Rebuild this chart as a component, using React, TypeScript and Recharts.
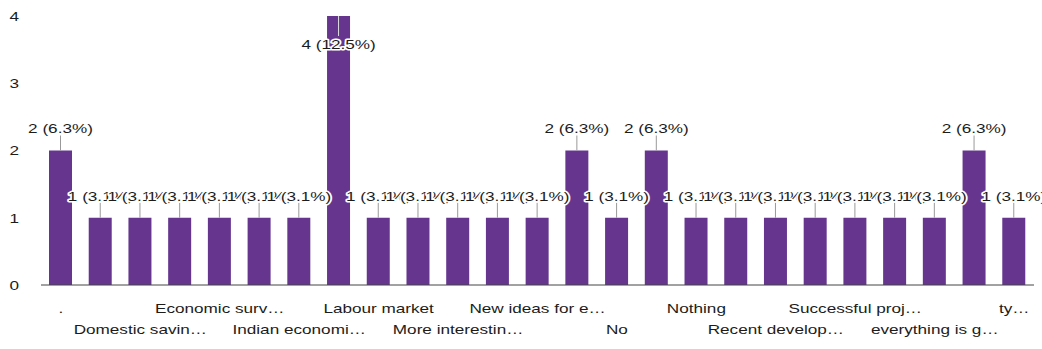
import React from "react";
import { BarChart, Bar, XAxis, YAxis, LabelList } from "recharts";

const categories: string[] = [
  ".",
  "Banking sector",
  "Domestic savin…",
  "Economic growth",
  "Economic surv…",
  "GDP growth",
  "Indian economi…",
  "Inflation",
  "Labour market",
  "Monetary policy",
  "More interestin…",
  "Nature of economy",
  "New ideas for e…",
  "Nice",
  "No",
  "None",
  "Nothing",
  "Poverty",
  "Recent develop…",
  "Rural economy",
  "Successful proj…",
  "Tax reforms",
  "everything is g…",
  "nothing much",
  "ty…",
];

const counts: number[] = [2, 1, 1, 1, 1, 1, 1, 4, 1, 1, 1, 1, 1, 2, 1, 2, 1, 1, 1, 1, 1, 1, 1, 2, 1];

const yTicks: number[] = [0, 1, 2, 3, 4];

const total = counts.reduce((a, b) => a + b, 0);
const data = categories.map((name, i) => ({ name, value: counts[i] }));

const FONT = "'Liberation Sans', Arial, sans-serif";
const FONT_SIZE = 13.5;
const STRETCH = 1.27;
const TEXT_FILL = "#1c1c1c";
const PLOT_TOP = 16;

const XTick = (props: any) => {
  const { x, payload } = props;
  const i = categories.indexOf(payload.value);
  if (i < 0 || i % 2 === 1) return null;
  const row = (i / 2) % 2;
  const ty = row === 0 ? 308 : 329;
  return (
    <text
      transform={`translate(${x},${ty}) scale(${STRETCH},1)`}
      x={0}
      y={0}
      textAnchor="middle"
      dominantBaseline="central"
      fontFamily={FONT}
      fontSize={FONT_SIZE}
      fill={TEXT_FILL}
    >
      {payload.value}
    </text>
  );
};

const YTick = (props: any) => {
  const { y, payload } = props;
  return (
    <text
      transform={`translate(19,${y}) scale(${STRETCH},1)`}
      x={0}
      y={0}
      textAnchor="end"
      dominantBaseline="central"
      fontFamily={FONT}
      fontSize={FONT_SIZE}
      fill={TEXT_FILL}
    >
      {payload.value}
    </text>
  );
};

const BarLabel = (props: any) => {
  const { x, y, width, value } = props;
  const cx = x + width / 2;
  const text = `${value} (${((value / total) * 100).toFixed(1)}%)`;
  const above = y - 22 - 7 >= PLOT_TOP;
  const ty = above ? y - 22 : y + 28;
  return (
    <g>
      {above ? (
        <line x1={cx} x2={cx} y1={y - 15} y2={y} stroke="#999" strokeWidth={1} />
      ) : (
        <line x1={cx} x2={cx} y1={y} y2={y + 20} stroke="#ddd" strokeWidth={1} />
      )}
      <text
        transform={`translate(${cx},${ty}) scale(${STRETCH},1)`}
        x={0}
        y={0}
        textAnchor="middle"
        dominantBaseline="central"
        fontFamily={FONT}
        fontSize={FONT_SIZE}
        fill={TEXT_FILL}
        stroke="#fff"
        strokeWidth={3}
        strokeLinejoin="round"
        paintOrder="stroke"
      >
        {text}
      </text>
    </g>
  );
};

export default function App() {
  return (
    <div style={{ position: "absolute", left: 0, top: 0, background: "#fff" }}>
      <BarChart
        width={1042}
        height={349}
        data={data}
        margin={{ top: PLOT_TOP, right: 8, bottom: 0, left: 0 }}
      >
        <YAxis
          width={41}
          domain={[0, 4]}
          ticks={yTicks}
          axisLine={false}
          tickLine={false}
          tick={<YTick />}
        />
        <XAxis
          dataKey="name"
          height={64}
          interval={0}
          axisLine={{ stroke: "#444", strokeWidth: 1 }}
          tickLine={false}
          tick={<XTick />}
        />
        <Bar dataKey="value" fill="#66368f" barSize={23} isAnimationActive={false}>
          <LabelList dataKey="value" content={<BarLabel />} />
        </Bar>
      </BarChart>
    </div>
  );
}
